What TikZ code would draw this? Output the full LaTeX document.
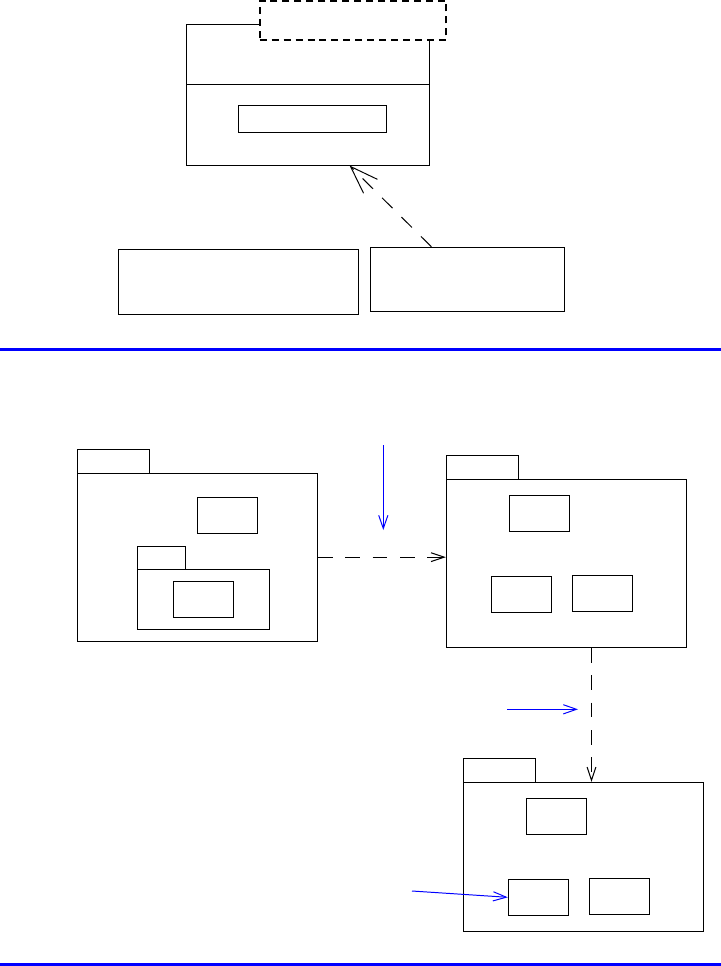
\documentclass[tikz,border=0pt]{standalone}
\usepackage{tikz}
\usetikzlibrary{positioning,fit,calc,arrows.meta}
\definecolor{sepB}{RGB}{0,0,255}

\begin{document}
\begin{tikzpicture}[x=0.025cm,y=-0.025cm,
   bx/.style={draw,line width=0.7pt,inner sep=0pt,fill=white},
   tpl/.style={draw,line width=1.4pt,inner sep=0pt,fill=white,dash pattern=on 5pt off 3.5pt},
   dep/.style={line width=0.7pt,dash pattern=on 10.5pt off 9pt},
   hint/.style={sepB,line width=0.7pt,-{Straight Barb[length=3.3mm,width=2.3mm]}},
   sep/.style={sepB,line width=2.1pt}]
\useasboundingbox (0,0) rectangle (721,966);

%% ---- upper part: class with template box ----
\node[bx,fit={(186.3,24.3) (429.3,84.3)}] (clsHead) {};
\node[bx,fit={(186.3,84.3) (429.3,165)}] (clsBody) {};
\node[bx,fit={(238.3,105.3) (386.3,132.3)}] (clsAttr) {};
\node[tpl,fit={(259.7,1) (446.3,40)}] (clsTpl) {};
\node[bx,fit={(118.3,249.3) (358.3,314)}] (boxL) {};
\node[bx,fit={(370.3,247.3) (564.3,311.3)}] (boxR) {};
\draw[dep,-{Straight Barb[length=7mm,width=4.9mm]}]
  ($(boxR.north west)!0.316!(boxR.north east)$) -- ($(clsBody.south west)!0.671!(clsBody.south east)$);

%% ---- separator ----
\coordinate (sepL1) at (0,349.3);
\coordinate (sepR1) at (721,349.3);
\draw[sep] (sepL1) -- (sepR1);

%% ---- package A (with nested package) ----
\node[bx,fit={(77.3,449.3) (149.3,473.3)}] (pkgAtab) {};
\node[bx,fit={(77.3,473.3) (317.3,641)}] (pkgA) {};
\node[bx,fit={(197.3,497.3) (257.3,533.3)}] (a1) {};
\node[bx,fit={(137.3,546.3) (185.3,569.3)}] (subAtab) {};
\node[bx,fit={(137.3,569.3) (269.3,629.3)}] (subA) {};
\node[bx,fit={(173.3,581.3) (233.3,617.3)}] (a2) {};

%% ---- package B ----
\node[bx,fit={(446.3,455.3) (518.3,479.3)}] (pkgBtab) {};
\node[bx,fit={(446.3,479.3) (686.3,647.3)}] (pkgB) {};
\node[bx,fit={(509.3,495.3) (569.3,531.3)}] (b1) {};
\node[bx,fit={(491.3,576.3) (551.3,612.3)}] (b2) {};
\node[bx,fit={(572.3,575.3) (632.3,611.3)}] (b3) {};

%% ---- package C ----
\node[bx,fit={(463.3,758.3) (535.3,782.3)}] (pkgCtab) {};
\node[bx,fit={(463.3,782.3) (703.3,931.3)}] (pkgC) {};
\node[bx,fit={(526.3,798.3) (586.3,834.3)}] (c1) {};
\node[bx,fit={(508.3,879.3) (568.3,915.3)}] (c2) {};
\node[bx,fit={(589.3,878.3) (649.3,914.3)}] (c3) {};

%% ---- dependencies ----
\coordinate (vx) at (591.5,0);
\draw[dep,-{Straight Barb[length=3.3mm,width=2.2mm]}] (pkgA.east) -- (pkgA.east -| pkgB.west);
\draw[dep,-{Straight Barb[length=3.3mm,width=2.2mm]}] (pkgB.south -| vx) -- (pkgC.north -| vx);

%% ---- blue hints ----
\coordinate (h1s) at (383.3,445);
\coordinate (h1e) at (383.3,530);
\coordinate (h2s) at (507,709.3);
\coordinate (h2e) at (578,709.3);
\coordinate (h3s) at (412,891);
\draw[hint] (h1s) -- (h1e);
\draw[hint] (h2s) -- (h2e);
\draw[hint] (h3s) -- (c2.west);

%% ---- bottom separator ----
\coordinate (sepL2) at (0,964.5);
\coordinate (sepR2) at (721,964.5);
\draw[sep] (sepL2) -- (sepR2);
\end{tikzpicture}
\end{document}
